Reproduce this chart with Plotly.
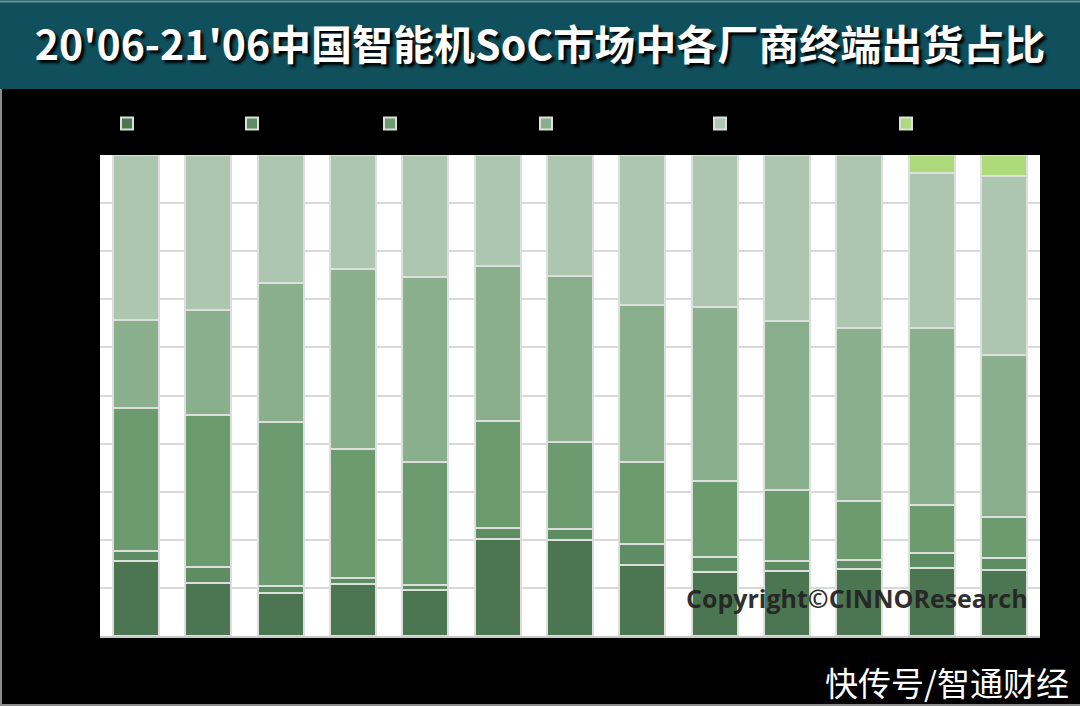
import plotly.graph_objects as go

categories = ["20'06", "20'07", "20'08", "20'09", "20'10", "20'11", "20'12",
              "21'01", "21'02", "21'03", "21'04", "21'05", "21'06"]

series_names = ["苹果", "三星", "海思", "联发科", "高通", "紫光展锐"]

apple     = [15.6, 11.0, 8.9, 10.8, 9.6, 20.1, 20.0, 14.7, 13.4, 13.6, 13.9, 14.1, 13.7]
samsung   = [2.1, 3.3, 1.6, 1.3, 0.9, 2.3, 2.2, 4.4, 3.1, 2.0, 2.0, 3.2, 2.6]
hisilicon = [29.7, 31.6, 34.1, 26.8, 25.7, 22.2, 18.2, 17.0, 15.8, 14.8, 12.1, 9.9, 8.5]
mediatek  = [18.3, 21.8, 28.8, 37.5, 38.3, 32.2, 34.5, 32.6, 36.1, 35.1, 36.0, 36.7, 33.6]
qualcomm  = [34.3, 32.2, 26.7, 23.6, 25.4, 23.1, 25.1, 31.2, 31.6, 34.5, 36.1, 32.2, 37.3]
unisoc    = [0, 0, 0, 0, 0, 0, 0, 0, 0, 0, 0, 3.8, 4.3]

series_values = [apple, samsung, hisilicon, mediatek, qualcomm, unisoc]
colors = ["#4C7551", "#5F8D63", "#6B9B6F", "#8AAF8C", "#ADC6AF", "#AFDA7B"]

# layout geometry (pixels)
W, H = 1080, 706
L, R, T, B = 100, 40, 155, 70
PW, PH = W - L - R, H - T - B

def px_x(p):
    return (p - L) / PW

def px_y(p):
    return (H - B - p) / PH

legend_px = [127, 252, 390, 546, 720, 906]

fig = go.Figure()
for i, (name, vals, col) in enumerate(zip(series_names, series_values, colors)):
    fig.add_trace(go.Bar(
        x=categories, y=vals, name=name,
        marker=dict(color=col, line=dict(color="#DCDFDC", width=2)),
        legend="legend" if i == 0 else f"legend{i+1}",
    ))

layout_legends = {}
for i, p in enumerate(legend_px):
    key = "legend" if i == 0 else f"legend{i+1}"
    layout_legends[key] = dict(
        x=px_x(p - 20), xanchor="left", y=px_y(124), yanchor="middle",
        orientation="h", bgcolor="rgba(0,0,0,0)",
        font=dict(family="Noto Sans CJK SC", size=14, color="#000000"),
    )

fig.update_layout(
    width=W, height=H,
    margin=dict(l=L, r=R, t=T, b=B, autoexpand=False),
    paper_bgcolor="#000000",
    plot_bgcolor="#FFFFFF",
    barmode="stack",
    barnorm="percent",
    bargap=0.364,
    showlegend=True,
    title=dict(
        text="20'06-21'06中国智能机SoC市场中各厂商终端出货占比",
        x=0.5, xanchor="center", xref="container",
        y=1 - 46 / H, yanchor="middle", yref="container",
        font=dict(family="Noto Sans CJK SC", size=41, color="#FFFFFF",
                  weight="bold", shadow="3px 3px 3px #000000"),
    ),
    xaxis=dict(
        type="category", showgrid=False, showline=True,
        linecolor="#C8C8C8", linewidth=2, ticks="",
        tickfont=dict(color="#000000", size=13), range=[-0.5, 12.5],
    ),
    yaxis=dict(
        range=[0, 100], dtick=10, ticksuffix="%", showgrid=True,
        gridcolor="#D9D9D9", gridwidth=1.5, zeroline=False, showline=False,
        tickfont=dict(color="#000000", size=13),
    ),
    shapes=[
        dict(type="rect", xref="paper", yref="paper",
             x0=px_x(0), x1=px_x(W), y0=px_y(89), y1=px_y(0),
             fillcolor="#10505C", line=dict(width=0), layer="above"),
        dict(type="line", xref="paper", yref="paper",
             x0=px_x(0), x1=px_x(W), y0=px_y(1.5), y1=px_y(1.5),
             line=dict(color="#6A9196", width=2), layer="above"),
        dict(type="line", xref="paper", yref="paper",
             x0=px_x(1), x1=px_x(1), y0=px_y(89), y1=px_y(H),
             line=dict(color="#8C8C8C", width=2), layer="above"),
        dict(type="line", xref="paper", yref="paper",
             x0=px_x(0), x1=px_x(W), y0=px_y(H - 1), y1=px_y(H - 1),
             line=dict(color="#8C8C8C", width=2), layer="above"),
    ],
    annotations=[
        dict(text="Copyright©CINNOResearch", xref="paper", yref="paper",
             x=px_x(857), y=px_y(598), xanchor="center", yanchor="middle",
             showarrow=False,
             font=dict(family="Open Sans", size=25, color="rgba(35,35,35,0.95)",
                       weight="bold")),
        dict(text="快传号/智通财经", xref="paper", yref="paper",
             x=px_x(1071), y=px_y(682), xanchor="right", yanchor="middle",
             showarrow=False,
             font=dict(family="Noto Sans CJK SC", size=33, color="#FFFFFF")),
    ],
    **layout_legends,
)

fig.write_html("out.html",
               config={"displayModeBar": False},
               post_script="document.body.style.margin='0';document.body.style.background='#000';")
